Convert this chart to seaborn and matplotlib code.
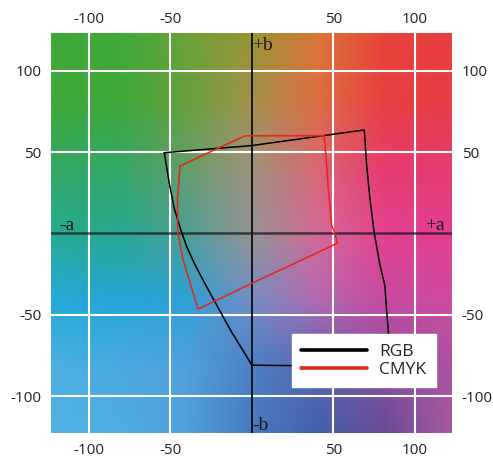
import numpy as np
import pandas as pd
import matplotlib
matplotlib.use("Agg")
import matplotlib.pyplot as plt
import seaborn as sns

# ---- data ----
rgb_a = [-53.7, 0, 69, 70.4, 72.4, 75, 78.5, 81.6, 82.6, 83.7, 85, 0, -6, -12.5, -17.5, -22.7,
         -29, -35, -40, -43.5, -47.5, -50.5, -53.7]
rgb_b = [49.6, 54, 63.6, 42.4, 21.8, 1, -19, -32, -46, -60, -82, -81, -71, -60.5, -51.5, -42,
         -30.5, -19, -8, 2, 15, 30, 49.6]
cmyk_a = [-44, -26.7, -4, 44.4, 45.3, 47, 49, 51, 52.6, 0, -33, -42, -45.5, -45.6, -44]
cmyk_b = [41.4, 49.6, 60, 60, 50, 26, 5, 0, -6, -30.7, -46.5, -17, 1, 22, 41.4]
tick_vals = [-100, -50, 50, 100]
tick_labels = ["-100", "-50", "50", "100"]

# background colour grid (rows top->bottom, cols left->right)
bg_x = [-123, -82, -41, 0, 41, 82, 123]
bg_y = [123, 82, 41, 0, -41, -82, -123]
bg_colors = [
    [(62, 168, 58), (62, 170, 58), (105, 162, 55), (152, 148, 52), (218, 117, 55), (232, 66, 60), (232, 62, 62)],
    [(62, 168, 58), (62, 168, 58), (100, 160, 60), (162, 144, 74), (222, 108, 65), (232, 64, 65), (232, 60, 66)],
    [(52, 168, 98), (52, 168, 100), (98, 158, 105), (160, 146, 124), (218, 102, 114), (230, 60, 110), (230, 60, 115)],
    [(40, 170, 145), (40, 168, 145), (75, 158, 150), (150, 148, 150), (212, 104, 152), (228, 65, 145), (228, 62, 145)],
    [(35, 170, 215), (35, 165, 215), (45, 160, 214), (115, 140, 195), (178, 104, 176), (200, 75, 160), (205, 75, 160)],
    [(75, 175, 225), (75, 170, 225), (80, 160, 220), (75, 128, 196), (92, 102, 176), (140, 80, 160), (170, 85, 160)],
    [(80, 178, 228), (80, 172, 225), (80, 160, 220), (72, 122, 192), (65, 97, 172), (105, 75, 150), (165, 90, 160)],
]

df = pd.DataFrame({
    "a": rgb_a + cmyk_a,
    "b": rgb_b + cmyk_b,
    "gamut": ["RGB"] * len(rgb_a) + ["CMYK"] * len(cmyk_a),
})

sns.set_theme(style="white")
plt.rcParams["font.family"] = ["Open Sans", "DejaVu Sans"]

W, H = 493, 459
fig = plt.figure(figsize=(W / 100, H / 100), dpi=100)
ax = fig.add_axes([51 / W, 1 - 433 / H, 401 / W, 400 / H])

xlim = (-123.2, 122.8)
ylim = (-122.7, 123.2)

# background gradient
C = np.array(bg_colors, dtype=float) / 255.0
fx = np.linspace(xlim[0], xlim[1], 400)
fy = np.linspace(ylim[1], ylim[0], 400)
gx = np.array(bg_x, dtype=float)
gy_inc = np.array(bg_y[::-1], dtype=float)
rows = np.zeros((len(bg_y), len(fx), 3))
for r in range(len(bg_y)):
    for c in range(3):
        rows[r, :, c] = np.interp(fx, gx, C[r, :, c])
rows_inc = rows[::-1]
img = np.zeros((len(fy), len(fx), 3))
for j in range(len(fx)):
    for c in range(3):
        img[:, j, c] = np.interp(fy, gy_inc, rows_inc[:, j, c])
ax.imshow(img, extent=[xlim[0], xlim[1], ylim[0], ylim[1]], origin="upper",
          aspect="auto", interpolation="bilinear", zorder=0)

# grid
for v in tick_vals:
    ax.axvline(v, color="white", lw=1.5, zorder=1)
    ax.axhline(v, color="white", lw=1.5, zorder=1)
ax.axvline(0, color="black", lw=1.2, zorder=2)
ax.axhline(0, color="#1a1a1a", lw=1.8, alpha=0.75, zorder=2)

sns.lineplot(data=df, x="a", y="b", hue="gamut", sort=False, estimator=None,
             palette={"RGB": "black", "CMYK": "#e8241c"}, lw=1.1, ax=ax, zorder=3)

ax.set_xlim(*xlim)
ax.set_ylim(*ylim)
ax.set_xlabel("")
ax.set_ylabel("")
for s in ax.spines.values():
    s.set_visible(False)

lab_kw = dict(length=0, labelsize=11, colors="#222222")
ax.set_xticks(tick_vals)
ax.set_xticklabels(tick_labels)
ax.set_yticks(tick_vals)
ax.set_yticklabels(tick_labels)
ax.tick_params(axis="x", pad=7.0, **lab_kw)
ax.tick_params(axis="y", pad=7, **lab_kw)

top = ax.secondary_xaxis("top")
top.set_xticks(tick_vals)
top.set_xticklabels(tick_labels)
top.tick_params(axis="x", pad=4.5, **lab_kw)
right = ax.secondary_yaxis("right")
right.set_yticks(tick_vals)
right.set_yticklabels(tick_labels)
right.tick_params(axis="y", pad=7, **lab_kw)
for sa in (top, right):
    for s in sa.spines.values():
        s.set_visible(False)

serif = dict(family=["Liberation Serif", "DejaVu Serif"], fontsize=14, color="#1a1a1a")
ax.text(0.3, 115.5, "+b", ha="left", va="center", zorder=4, **serif)
ax.text(0.3, -118.0, "-b", ha="left", va="center", zorder=4, **serif)
ax.text(-118.2, 5.0, "-a", ha="left", va="center", zorder=4, **serif)
ax.text(106.5, 5.0, "+a", ha="left", va="center", zorder=4, **serif)

handles, labels = ax.get_legend_handles_labels()
hl = [(h, l) for h, l in zip(handles, labels) if l in ("RGB", "CMYK")]
leg = ax.legend([h for h, _ in hl], [l for _, l in hl], loc="upper left",
                bbox_to_anchor=(0.6, 0.2475), borderaxespad=0, frameon=True,
                fancybox=False, framealpha=1, facecolor="white", edgecolor="white",
                prop={"family": ["Open Sans", "DejaVu Sans"], "size": 12.5},
                handlelength=3.8, handletextpad=0.7, borderpad=0.55, labelspacing=0.1)
for line in leg.get_lines():
    line.set_linewidth(2.6)
leg.set_zorder(5)

fig.savefig("out.png", dpi=100)
